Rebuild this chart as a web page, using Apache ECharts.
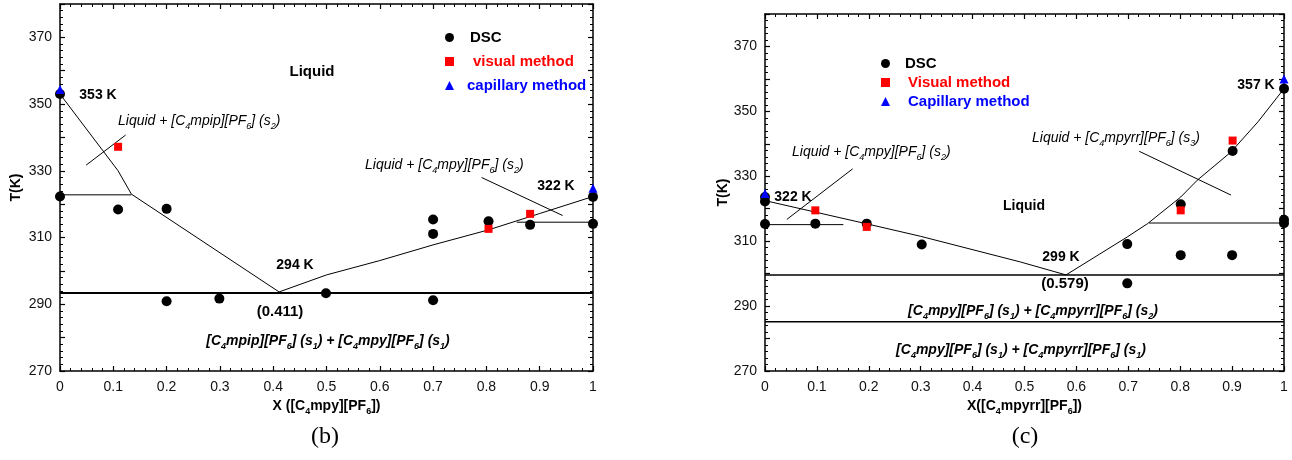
<!DOCTYPE html>
<html><head><meta charset="utf-8">
<script src="https://cdn.jsdelivr.net/npm/echarts@6/dist/echarts.min.js"></script>
<style>html,body{margin:0;padding:0;background:#fff}#c{width:1292px;height:460px}</style>
</head><body><div id="c"></div>
<script>
// ---------- Panel (b) data ----------
const bDSC = [[0,353],[0,322.3],[0.109,318.4],[0.2,318.6],[0.2,290.9],[0.299,291.7],[0.499,293.3],
  [0.7,315.4],[0.7,311.1],[0.7,291.2],[0.804,314.9],[0.882,313.8],[1,322.2],[1,314.1]];
const bVisual = [[0.109,337.2],[0.804,312.6],[0.882,317.1]];
const bCapillary = [[0,354.4],[1,324.8]];
const bLiqLeft = [[0,353],[0.109,330],[0.134,323],[0.411,293.7]];
const bLiqRight = [[0.411,293.7],[0.5,298.8],[0.6,303.1],[0.7,307.8],[0.804,312.3],[0.9,317.2],[1,322.3]];
const bShelfLeft = [[0,322.8],[0.134,322.8]];
const bShelfRight = [[0.857,314.6],[1,314.6]];
const bEutectic = [[0,293.4],[1,293.4]];
const bTie1 = [[0.049,331.7],[0.123,340.7]];
const bTie2 = [[0.791,328],[0.943,316.6]];

// ---------- Panel (c) data ----------
const cDSC = [[0,322.2],[0,323.6],[0,315.3],[0.097,315.4],[0.196,315.4],[0.302,309],[0.698,309.1],[0.698,297],
  [0.801,305.7],[0.801,321.4],[0.9,305.7],[0.901,337.8],[1,357],[1,315.5],[1,316.6]];
const cVisual = [[0.097,319.5],[0.196,314.4],[0.801,319.5],[0.901,341]];
const cCapillary = [[0,324.7],[1,360]];
const cLiqLeft = [[0,322.5],[0.2,315.2],[0.3,311.5],[0.492,303.6],[0.58,299.6]];
const cLiqRight = [[0.58,299.6],[0.698,311.3],[0.737,315.4],[0.801,323.6],[0.833,328.8],[0.898,337.5],[0.95,346.8],[1,357]];
const cShelfLeft = [[0,315.1],[0.151,315.1]];
const cShelfRight = [[0.74,315.6],[1,315.6]];
const cEutectic = [[0,299.6],[1,299.6]];
const cLower = [[0,285.2],[1,285.2]];
const cTie1 = [[0.042,316.7],[0.169,332.3]];
const cTie2 = [[0.721,337.7],[0.898,324.2]];

// ---------- axis ranges / ticks ----------
const xRange = [0, 1], xStep = 0.1;
const yRange = [270, 380], yStep = 10, yLabelStep = 20;

const FONT = 'Liberation Sans, Arial, sans-serif';

function sub(str){ return str.replace(/_(\w)/g, '{s|$1}'); }
function richText(str, size, weight, italic, color){
  return {
    text: sub(str), fill: color || '#000', fontSize: size, fontWeight: weight, fontStyle: italic ? 'italic':'normal',
    fontFamily: FONT,
    rich: { s: { fontSize: Math.round(size*0.62), fontWeight: weight, fontStyle: italic?'italic':'normal', fontFamily: FONT,
      fill: color || '#000', verticalAlign: 'bottom', lineHeight: Math.round(size*0.62), padding:[0,0,-3,0] } }
  };
}
function txt(x, y, str, size, weight, italic, align){
  const st = richText(str, size, weight, italic);
  st.textAlign = align || 'center'; st.textVerticalAlign = 'middle';
  st.align = st.textAlign; st.verticalAlign = 'middle';
  return { type:'text', x, y, style: st, z: 100 };
}

function xAxes(gi, title, gap){
  const common = {
    gridIndex: gi, type:'value', min: xRange[0], max: xRange[1], interval: xStep,
    axisLine: { show:true, onZero:false, lineStyle:{ color:'#000', width:1.5 } },
    axisTick: { inside:true, length:5, lineStyle:{ color:'#000', width:1.2 } },
    minorTick: { show:true, splitNumber:5, length:3, lineStyle:{ color:'#000', width:1 } },
    splitLine: { show:false }
  };
  return [
    Object.assign({}, common, { position:'bottom',
      axisLabel: { margin: 9, fontSize: 14, color:'#111', fontFamily: FONT },
      name: sub(title), nameLocation:'middle', nameGap: gap,
      nameTextStyle: { fontSize:14, fontWeight:'bold', color:'#000', fontFamily: FONT,
        rich:{ s:{ fontSize:9, fontWeight:'bold', fontFamily:FONT, color:'#000', verticalAlign:'bottom', lineHeight:9, padding:[0,0,-3,0] } } } }),
    Object.assign({}, common, { position:'top', axisLabel:{ show:false } })
  ];
}
function yAxes(gi, gap){
  const common = {
    gridIndex: gi, type:'value', min: yRange[0], max: yRange[1], interval: yStep,
    axisLine: { show:true, onZero:false, lineStyle:{ color:'#000', width:1.5 } },
    axisTick: { inside:true, length:5, lineStyle:{ color:'#000', width:1.2 } },
    minorTick: { show:true, splitNumber:5, length:3, lineStyle:{ color:'#000', width:1 } },
    splitLine: { show:false }
  };
  return [
    Object.assign({}, common, { position:'left',
      axisLabel: { margin: 8, fontSize: 14, color:'#111', fontFamily: FONT,
        formatter: v => ((v - yRange[0]) % yLabelStep === 0 && v < yRange[1]) ? String(v) : '' },
      name: 'T(K)', nameLocation:'middle', nameGap: gap, nameRotate: 90,
      nameTextStyle: { fontSize:14, fontWeight:'bold', color:'#000', fontFamily: FONT } }),
    Object.assign({}, common, { position:'right', axisLabel:{ show:false } })
  ];
}

function lineS(name, data, xi, yi, w){
  return { type:'line', name, data, xAxisIndex:xi, yAxisIndex:yi, symbol:'none', silent:true,
    lineStyle:{ color:'#000', width: w || 1 }, z: 2 };
}
function dots(name, data, xi, yi, sym, size, color){
  return { type:'scatter', name, data, xAxisIndex:xi, yAxisIndex:yi, symbol:sym, symbolSize:size,
    itemStyle:{ color, opacity:1 }, z: 5, clip:false };
}

const chart = echarts.init(document.getElementById('c'), null, { renderer:'canvas' });
chart.setOption({
  animation:false,
  backgroundColor:'#fff',
  grid: [
    { left:60, top:4, width:533, height:367 },
    { left:765, top:14, width:519, height:357 }
  ],
  xAxis: [...xAxes(0, 'X ([C_4mpy][PF_6])', 24), ...xAxes(1, 'X([C_4mpyrr][PF_6])', 21)],
  yAxis: [...yAxes(0, 37), ...yAxes(1, 34)],
  legend: [
    { orient:'vertical', left:440, top:25, itemGap:9, itemWidth:9, itemHeight:9,
      textStyle:{ fontSize:15, fontWeight:'bold', fontFamily:FONT },
      data:[ { name:'DSC', textStyle:{ color:'#000', padding:[0,0,0,11] } },
             { name:'visual method', textStyle:{ color:'#ff0000', padding:[0,0,0,14] } },
             { name:'capillary method', textStyle:{ color:'#0000ff', padding:[0,0,0,8] } } ] },
    { orient:'vertical', left:876, top:51, itemGap:4, itemWidth:9, itemHeight:9,
      textStyle:{ fontSize:15, fontWeight:'bold', fontFamily:FONT },
      data:[ { name:'DSC', textStyle:{ color:'#000', padding:[0,0,0,10] } },
             { name:'Visual method', textStyle:{ color:'#ff0000', padding:[0,0,0,13] } },
             { name:'Capillary method', textStyle:{ color:'#0000ff', padding:[0,0,0,13] } } ] }
  ],
  series: [
    lineS('b1', bLiqLeft, 0, 0), lineS('b2', bLiqRight, 0, 0), lineS('b3', bShelfLeft, 0, 0),
    lineS('b4', bShelfRight, 0, 0), lineS('b5', bEutectic, 0, 0, 2), lineS('b6', bTie1, 0, 0), lineS('b7', bTie2, 0, 0),
    dots('DSC', bDSC, 0, 0, 'circle', 10, '#000'),
    dots('visual method', bVisual, 0, 0, 'rect', 8, '#ff0000'),
    dots('capillary method', bCapillary, 0, 0, 'triangle', 9, '#0000ff'),

    lineS('c1', cLiqLeft, 2, 2), lineS('c2', cLiqRight, 2, 2), lineS('c3', cShelfLeft, 2, 2),
    lineS('c4', cShelfRight, 2, 2), lineS('c5', cEutectic, 2, 2, 1.5), lineS('c6', cLower, 2, 2, 1.5),
    lineS('c7', cTie1, 2, 2), lineS('c8', cTie2, 2, 2),
    dots('DSC', cDSC, 2, 2, 'circle', 10, '#000'),
    dots('Visual method', cVisual, 2, 2, 'rect', 8, '#ff0000'),
    dots('Capillary method', cCapillary, 2, 2, 'triangle', 9, '#0000ff')
  ],
  graphic: [
    // panel (b)
    txt(312, 72, 'Liquid', 15, 'bold', false),
    txt(98, 95, '353 K', 14, 'bold', false),
    txt(118, 121, 'Liquid + [C_4mpip][PF_6] (s_2)', 14, 'normal', true, 'left'),
    txt(365, 165, 'Liquid + [C_4mpy][PF_6] (s_2)', 14, 'normal', true, 'left'),
    txt(556, 186, '322 K', 14, 'bold', false),
    txt(295, 265, '294 K', 14, 'bold', false),
    txt(280, 312, '(0.411)', 15, 'bold', false),
    txt(328, 341, '[C_4mpip][PF_6] (s_1) + [C_4mpy][PF_6] (s_1)', 14, 'bold', true),
    { type:'text', x:325, y:437, style:{ text:'(b)', fontSize:24, fontFamily:'Liberation Serif, Times New Roman, serif', fill:'#000', textAlign:'center', textVerticalAlign:'middle', align:'center', verticalAlign:'middle' } },
    // panel (c)
    txt(1024, 206, 'Liquid', 14, 'bold', false),
    txt(793, 197, '322 K', 14, 'bold', false),
    txt(792, 152, 'Liquid + [C_4mpy][PF_6] (s_2)', 14, 'normal', true, 'left'),
    txt(1032, 138, 'Liquid + [C_4mpyrr][PF_6] (s_3)', 14, 'normal', true, 'left'),
    txt(1256, 85, '357 K', 14, 'bold', false),
    txt(1061, 257, '299 K', 14, 'bold', false),
    txt(1065, 284, '(0.579)', 15, 'bold', false),
    txt(1033, 311, '[C_4mpy][PF_6] (s_1) + [C_4mpyrr][PF_6] (s_2)', 14, 'bold', true),
    txt(1021, 350, '[C_4mpy][PF_6] (s_1) + [C_4mpyrr][PF_6] (s_1)', 14, 'bold', true),
    { type:'text', x:1025, y:437, style:{ text:'(c)', fontSize:24, fontFamily:'Liberation Serif, Times New Roman, serif', fill:'#000', textAlign:'center', textVerticalAlign:'middle', align:'center', verticalAlign:'middle' } }
  ]
});
</script></body></html>
